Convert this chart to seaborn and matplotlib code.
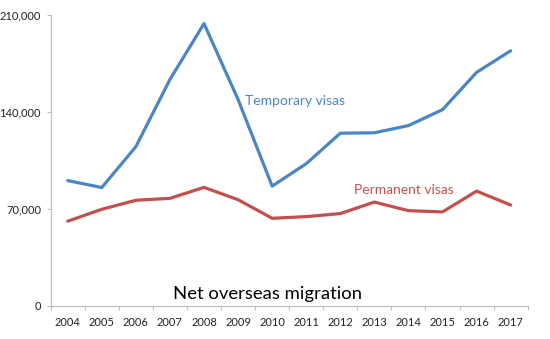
import matplotlib
matplotlib.use("Agg")
import matplotlib.pyplot as plt
import seaborn as sns
import pandas as pd
import numpy as np

years = ["2004", "2005", "2006", "2007", "2008", "2009", "2010",
         "2011", "2012", "2013", "2014", "2015", "2016", "2017"]
temporary = [90500, 85500, 115000, 163500, 203800, 149000, 86500,
             102700, 124700, 125000, 130200, 141700, 168600, 184200]
permanent = [61200, 69800, 76300, 77700, 85600, 76700, 63300,
             64500, 66700, 75000, 68800, 67900, 82900, 72900]
y_ticks = [0, 70000, 140000, 210000]
y_tick_labels = ["0", "70,000", "140,000", "210,000"]

blue = "#4A85C5"
red = "#C4504E"

sns.set_theme(style="white")
plt.rcParams['font.family'] = ['Lato', 'DejaVu Sans']

df = pd.DataFrame({
    "year": years * 2,
    "value": temporary + permanent,
    "series": ["Temporary visas"] * len(years) + ["Permanent visas"] * len(years),
})

fig = plt.figure(figsize=(5.5, 3.39), dpi=100)
ax = fig.add_axes([50.7 / 550, 33 / 339, 477 / 550, 291 / 339])

sns.lineplot(data=df, x="year", y="value", hue="series",
             palette={"Temporary visas": blue, "Permanent visas": red},
             linewidth=2.3, ax=ax, legend=False, sort=False)

ax.set_xlim(-0.5, len(years) - 0.5)
ax.set_ylim(0, 210000)
ax.set_yticks(y_ticks)
ax.set_yticklabels(y_tick_labels)
ax.set_xticks(np.arange(-0.5, len(years), 1.0))
ax.set_xticklabels([])
ax.set_xticks(np.arange(len(years)), minor=True)
ax.set_xticklabels(years, minor=True)
ax.tick_params(axis="x", which="major", length=3, width=0.8, color="#bfbfbf", direction="out", bottom=True)
ax.tick_params(axis="x", which="minor", length=0, labelsize=8, pad=8, colors="#222222")
ax.tick_params(axis="y", length=3, width=0.8, color="#bfbfbf", direction="out", left=True,
               labelsize=8, labelcolor="#222222", pad=4)
ax.set_xlabel("")
ax.set_ylabel("")

for s in ["top", "right"]:
    ax.spines[s].set_visible(False)
for s in ["left", "bottom"]:
    ax.spines[s].set_color("#bfbfbf")
    ax.spines[s].set_linewidth(0.9)

ax.text(5.2, 148000, "Temporary visas", color=blue, fontsize=10, va="center", ha="left")
ax.text(8.4, 84000, "Permanent visas", color=red, fontsize=10, va="center", ha="left")
ax.text(3.08, 4800, "Net overseas migration", color="black", fontsize=13.3, va="baseline", ha="left")

fig.savefig("out.png", dpi=100)
